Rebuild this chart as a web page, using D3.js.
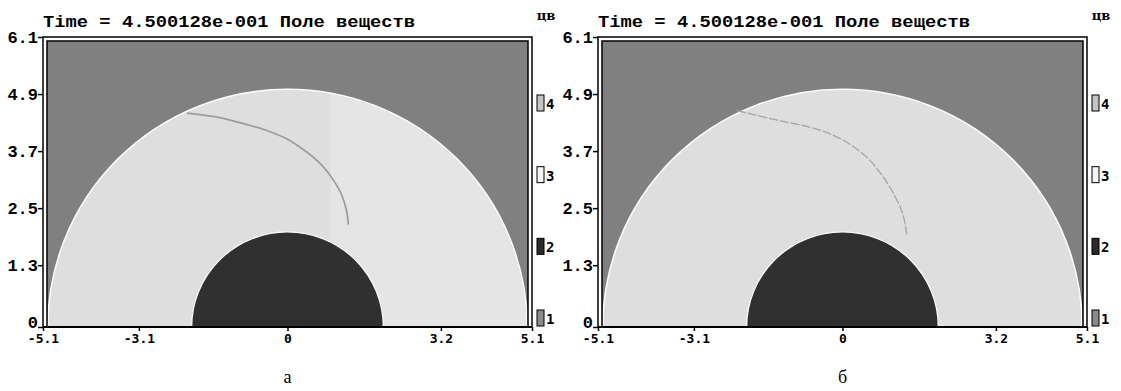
<!DOCTYPE html>
<html>
<head>
<meta charset="utf-8">
<script src="https://cdn.jsdelivr.net/npm/d3@7"></script>
<style>
  body { margin: 0; background: #fff; }
</style>
</head>
<body>
<svg id="chart" width="1121" height="391"></svg>
<script>
// values
const panelNames = ["а", "б"];
const titleText = "Time = 4.500128e-001 Поле веществ";
const xTicks = [-5.1, -3.1, 0, 3.2, 5.1];
const yTicks = [0, 1.3, 2.5, 3.7, 4.9, 6.1];
const legendCodes = [4, 3, 2, 1];
const legendColors = ["#c4c4c4", "#f4f4f4", "#2a2a2a", "#8a8a8a"];
const outerRadius = 5.0;
const coreRadius = 2.0;
const seamX = [0.9, null];
const frontA = [[-2.1, 4.5], [-1.5, 4.42], [-1.0, 4.3], [-0.45, 4.14], [0, 3.95], [0.4, 3.68],
                [0.7, 3.42], [0.95, 3.1], [1.13, 2.78], [1.23, 2.45], [1.27, 2.15]];
const frontB = [[-2.2, 4.55], [-1.4, 4.36], [-0.5, 4.15], [0.08, 3.89], [0.56, 3.52],
                [0.85, 3.15], [1.04, 2.85], [1.25, 2.4], [1.34, 1.95]];
const fronts = [frontA, frontB];

let panelShift = 555;
let fmt = d => d === 0 ? "0" : d.toFixed(1);

let svg = d3.select("#chart");

panelNames.forEach((name, i) => {
  let g = svg.append("g").attr("transform", "translate(" + i * panelShift + ",0)");

  let x = d3.scaleLinear().domain([-5.1, 5.1]).range([43, 532]);
  let y = d3.scaleLinear().domain([0, 6.1]).range([327, 37]);

  let left = x(-5.1), right = x(5.1), top = y(6.1), bottom = y(0);

  // frame, double line
  g.append("rect")
    .attr("x", left).attr("y", top)
    .attr("width", right - left).attr("height", bottom - top)
    .attr("fill", "#fff").attr("stroke", "#000").attr("stroke-width", 1.5);

  let clipId = "clip" + i;
  g.append("clipPath").attr("id", clipId)
    .append("rect")
    .attr("x", left + 4).attr("y", top + 4)
    .attr("width", right - left - 8).attr("height", bottom - top - 4);

  let plot = g.append("g").attr("clip-path", "url(#" + clipId + ")");

  plot.append("rect")
    .attr("x", left + 4).attr("y", top + 4)
    .attr("width", right - left - 8).attr("height", bottom - top - 4)
    .attr("fill", "#808080");

  // outer half disc
  plot.append("ellipse")
    .attr("cx", x(0)).attr("cy", y(0))
    .attr("rx", x(outerRadius) - x(0)).attr("ry", y(0) - y(outerRadius))
    .attr("fill", "#dedede")
    .attr("stroke", "#fafafa").attr("stroke-width", 1.6);

  if (seamX[i] !== null) {
    let seamClip = "seam" + i;
    g.append("clipPath").attr("id", seamClip)
      .append("ellipse")
      .attr("cx", x(0)).attr("cy", y(0))
      .attr("rx", x(outerRadius) - x(0) - 1).attr("ry", y(0) - y(outerRadius) - 1);
    plot.append("rect")
      .attr("clip-path", "url(#" + seamClip + ")")
      .attr("x", x(seamX[i])).attr("y", y(outerRadius))
      .attr("width", x(outerRadius) - x(seamX[i])).attr("height", y(0) - y(outerRadius))
      .attr("fill", "#e5e5e5");
  }

  // front line inside the light zone
  let line = d3.line()
    .x(d => x(d[0])).y(d => y(d[1]))
    .curve(d3.curveCatmullRom);

  plot.append("path")
    .attr("d", line(fronts[i]))
    .attr("fill", "none")
    .attr("stroke", i === 0 ? "#9c9c9c" : "#a4a4a4")
    .attr("stroke-width", i === 0 ? 1.7 : 1.3)
    .attr("stroke-dasharray", i === 0 ? null : "9,2");

  // dark core
  plot.append("ellipse")
    .attr("cx", x(0)).attr("cy", y(0))
    .attr("rx", x(coreRadius) - x(0)).attr("ry", y(0) - y(coreRadius))
    .attr("fill", "#303030")
    .attr("stroke", "#f6f6f6").attr("stroke-width", 1.4);

  // inner frame line
  g.append("path")
    .attr("d", "M" + (left + 4) + "," + bottom + "V" + (top + 4) + "H" + (right - 4) + "V" + bottom)
    .attr("fill", "none").attr("stroke", "#000").attr("stroke-width", 1.5);

  // axes
  let xAxis = g.append("g")
    .attr("transform", "translate(0," + bottom + ")")
    .call(d3.axisBottom(x).tickValues(xTicks).tickSize(4).tickPadding(3).tickFormat(fmt));
  xAxis.select(".domain").remove();
  xAxis.selectAll("line").attr("stroke-width", 1.5);
  xAxis.selectAll("text")
    .attr("font-family", "DejaVu Sans Mono").attr("font-weight", "bold")
    .attr("font-size", 13).attr("fill", "#000");

  g.append("line")
    .attr("x1", left).attr("x2", right)
    .attr("y1", bottom).attr("y2", bottom)
    .attr("stroke", "#000").attr("stroke-width", 2);

  let yAxis = g.append("g")
    .attr("transform", "translate(" + left + ",0)")
    .call(d3.axisLeft(y).tickValues(yTicks).tickSize(5).tickPadding(0).tickFormat(fmt));
  yAxis.select(".domain").remove();
  yAxis.selectAll("line").attr("stroke-width", 1.5);
  yAxis.selectAll("text")
    .attr("font-family", "Liberation Mono").attr("font-weight", "bold")
    .attr("font-size", 17).attr("fill", "#000")
    .attr("dy", d => d === 0 ? "0.05em" : "0.32em");

  // title
  g.append("text")
    .attr("x", left).attr("y", 27)
    .attr("font-family", "Liberation Mono").attr("font-weight", "bold")
    .attr("font-size", 16)
    .attr("textLength", 372).attr("lengthAdjust", "spacingAndGlyphs")
    .text(titleText);

  // legend
  g.append("text")
    .attr("x", 546).attr("y", 20)
    .attr("text-anchor", "middle")
    .attr("font-family", "DejaVu Serif").attr("font-weight", "bold")
    .attr("font-size", 13)
    .text("цв");

  let ly = d3.scalePoint().domain(legendCodes).range([103, 318]);
  let item = g.selectAll(".legend")
    .data(legendCodes)
    .enter().append("g")
    .attr("class", "legend")
    .attr("transform", d => "translate(537," + ly(d) + ")");

  item.append("rect")
    .attr("x", 0).attr("y", -8)
    .attr("width", 7).attr("height", 16)
    .attr("fill", (d, k) => legendColors[k])
    .attr("stroke", "#000").attr("stroke-width", 1);

  item.append("text")
    .attr("x", 9).attr("y", 6)
    .attr("font-family", "DejaVu Sans Mono").attr("font-weight", "bold")
    .attr("font-size", 14)
    .text(d => d);

  // caption
  g.append("text")
    .attr("x", x(0)).attr("y", 383)
    .attr("text-anchor", "middle")
    .attr("font-family", "Liberation Serif")
    .attr("font-size", 18)
    .text(name);
});
</script>
</body>
</html>
